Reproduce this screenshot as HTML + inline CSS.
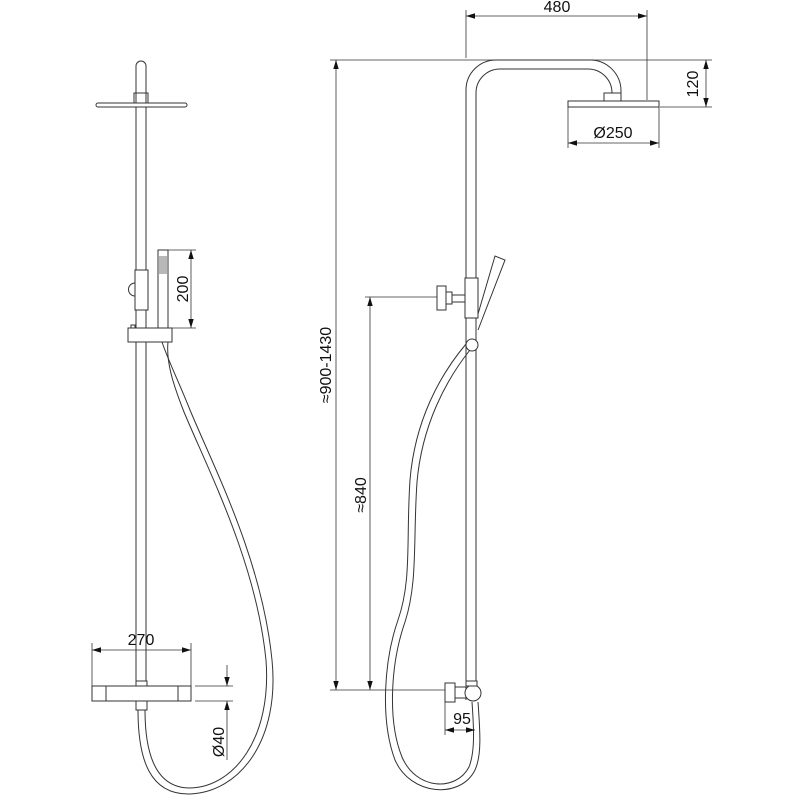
<!DOCTYPE html>
<html><head><meta charset="utf-8"><style>
html,body{margin:0;padding:0;background:#fff;}
svg{display:block;}
text{font-family:"Liberation Sans",sans-serif;font-size:16px;fill:#111;}
</style></head><body>
<svg width="800" height="800" viewBox="0 0 800 800" xmlns="http://www.w3.org/2000/svg">
<defs>
<marker id="a" viewBox="0 0 10 10" refX="10" refY="5" markerWidth="9" markerHeight="9" orient="auto-start-reverse" markerUnits="userSpaceOnUse"><path d="M0,2 L10,5 L0,8 z" fill="#111"/></marker>
</defs>
<g fill="none" stroke="#333" stroke-width="1">
<!-- LEFT VIEW -->
<path d="M136,103 V66 A5,5 0 0 1 146,66 V103"/>
<rect x="134" y="93" width="14" height="10"/>
<rect x="96" y="103" width="91" height="4" rx="2"/>
<line x1="136" y1="107" x2="136" y2="681"/>
<line x1="146" y1="107" x2="146" y2="681"/>
<rect x="135" y="270" width="13" height="40" fill="#fff"/>
<path d="M135,283 A6,6 0 0 0 135,296"/>
<rect x="158" y="250" width="10" height="78"/>
<g stroke-width="0.7"><line x1="160" y1="256" x2="160" y2="274"/><line x1="162" y1="256" x2="162" y2="274"/><line x1="164" y1="256" x2="164" y2="274"/><line x1="166" y1="256" x2="166" y2="274"/></g>
<rect x="128" y="328" width="44" height="14" fill="#fff"/>
<rect x="131" y="325" width="4" height="3"/>
<line x1="168" y1="250" x2="196" y2="250" stroke-width="0.8"/>
<line x1="172" y1="328" x2="196" y2="328" stroke-width="0.8"/>
<line x1="191" y1="250" x2="191" y2="328" stroke-width="0.8" marker-start="url(#a)" marker-end="url(#a)"/>
<!-- bar -->
<rect x="136" y="681" width="11" height="5"/>
<rect x="92" y="686" width="99" height="15" fill="#fff"/>
<line x1="106" y1="686" x2="106" y2="701"/><line x1="178" y1="686" x2="178" y2="701"/>
<rect x="136" y="701" width="11" height="9"/>
<line x1="92" y1="643" x2="92" y2="686" stroke-width="0.8"/>
<line x1="191" y1="643" x2="191" y2="686" stroke-width="0.8"/>
<line x1="92" y1="650" x2="191" y2="650" stroke-width="0.8" marker-start="url(#a)" marker-end="url(#a)"/>
<line x1="195" y1="686" x2="233" y2="686" stroke-width="0.8"/>
<line x1="195" y1="701" x2="233" y2="701" stroke-width="0.8"/>
<line x1="227" y1="665" x2="227" y2="686" stroke-width="0.8" marker-end="url(#a)"/>
<line x1="227" y1="760" x2="227" y2="701" stroke-width="0.8" marker-end="url(#a)"/>
<!-- left hose -->
<path d="M138,710 C138,760 150,795 190,794 C240,792 280,740 272,660 C262,560 215,470 190,410 C178,380 168,360 162,342"/>
<path d="M145,710 C145,755 156,788 190,788 C234,787 272,738 266,660 C256,562 209,472 184,412 C173,384 166,362 168,342"/>

<!-- RIGHT VIEW -->
<path d="M466,700 V90 A30,30 0 0 1 496,60 H590 A31,31 0 0 1 621,91 V93"/>
<path d="M476,683 V93 A24,24 0 0 1 500,69 H588 A24,24 0 0 1 612,93"/>
<rect x="604" y="93" width="17" height="8"/>
<rect x="568" y="101" width="91" height="6"/>
<line x1="466" y1="10" x2="466" y2="58" stroke-width="0.8"/>
<line x1="647" y1="10" x2="647" y2="100" stroke-width="0.8"/>
<line x1="466" y1="16" x2="647" y2="16" stroke-width="0.8" marker-start="url(#a)" marker-end="url(#a)"/>
<line x1="330" y1="60" x2="712" y2="60" stroke-width="0.8"/>
<line x1="660" y1="107" x2="712" y2="107" stroke-width="0.8"/>
<line x1="706" y1="60" x2="706" y2="107" stroke-width="0.8" marker-start="url(#a)" marker-end="url(#a)"/>
<line x1="568" y1="107" x2="568" y2="148" stroke-width="0.8"/>
<line x1="659" y1="107" x2="659" y2="148" stroke-width="0.8"/>
<line x1="568" y1="143" x2="659" y2="143" stroke-width="0.8" marker-start="url(#a)" marker-end="url(#a)"/>
<line x1="336" y1="60" x2="336" y2="690" stroke-width="0.8" marker-start="url(#a)" marker-end="url(#a)"/>
<line x1="330" y1="690" x2="445" y2="690" stroke-width="0.8"/>
<line x1="370" y1="297" x2="370" y2="690" stroke-width="0.8" marker-start="url(#a)" marker-end="url(#a)"/>
<line x1="365" y1="297" x2="437" y2="297" stroke-width="0.8"/>
<rect x="437" y="286" width="9" height="24" fill="#fff"/>
<rect x="446" y="292" width="6" height="12"/>
<rect x="452" y="295" width="14" height="7"/>
<rect x="465" y="278" width="13" height="40" fill="#fff"/>
<path d="M478,314 L495,256 L505,260 L478,330"/>
<path d="M466,344 C440,375 415,420 410,480 C406,540 412,580 398,620 C384,660 380,720 395,760 C410,795 460,800 475,770 C482,755 480,730 478,702"/>
<path d="M470,350 C446,380 422,425 417,482 C413,540 418,582 405,622 C391,662 387,720 402,757 C416,790 456,792 469,767 C475,752 474,730 472,702"/>
<circle cx="472" cy="345" r="6" fill="#fff"/>
<rect x="445" y="683" width="10" height="19" fill="#fff"/>
<rect x="455" y="687" width="11" height="11"/>
<circle cx="473" cy="693" r="8" fill="#fff"/>
<rect x="466" y="681" width="11" height="5" fill="#fff"/>
<line x1="445" y1="702" x2="445" y2="735" stroke-width="0.8"/>
<line x1="445" y1="730" x2="475" y2="730" stroke-width="0.8" marker-start="url(#a)" marker-end="url(#a)"/>
</g>
<text x="141" y="645" text-anchor="middle">270</text>
<text transform="translate(188,289) rotate(-90)" text-anchor="middle">200</text>
<text transform="translate(224,742) rotate(-90)" text-anchor="middle">Ø40</text>
<text x="557" y="12" text-anchor="middle">480</text>
<text transform="translate(698,84) rotate(-90)" text-anchor="middle">120</text>
<text x="613" y="138" text-anchor="middle">Ø250</text>
<text transform="translate(331,365) rotate(-90)" text-anchor="middle">≈900-1430</text>
<text transform="translate(366,495) rotate(-90)" text-anchor="middle">≈840</text>
<text x="462" y="724" text-anchor="middle">95</text>
</svg>
</body></html>
